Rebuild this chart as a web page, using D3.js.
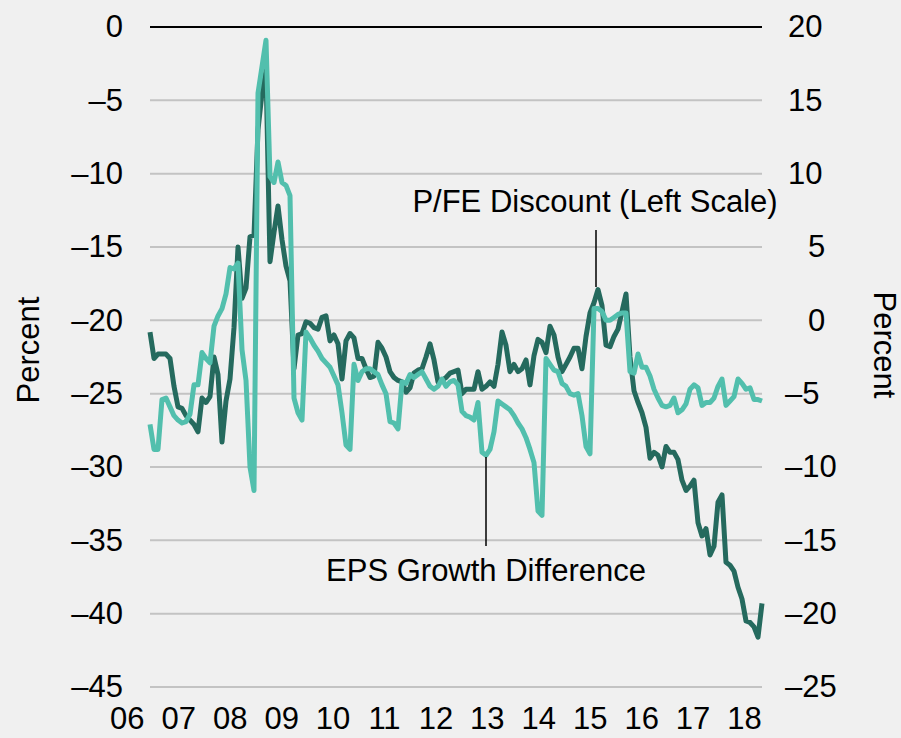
<!DOCTYPE html>
<html>
<head>
<meta charset="utf-8">
<script src="https://cdn.jsdelivr.net/npm/d3@7"></script>
<style>
  body { margin: 0; background: #f0f0f0; }
  svg text { font-family: "Liberation Sans", Arial, sans-serif; fill: #000; }
</style>
</head>
<body>
<div id="chart"></div>
<script>
// P/FE discount, left scale (percent)
var pfeDiscount = [
  -20.8, -22.6, -22.3, -22.3, -22.3, -22.6, -24.5, -25.9, -26.0, -26.5,
  -26.8, -27.1, -27.6, -25.3, -25.6, -25.2, -22.5, -23.7, -28.3, -25.5,
  -24.0, -20.5, -15.0, -18.5, -17.8, -14.3, -14.2, -7.0, -4.5, -3.0,
  -16.0, -14.0, -12.2, -14.5, -16.3, -17.3, -23.3, -21.0, -20.9, -20.1,
  -20.2, -20.5, -20.6, -19.8, -19.7, -21.4, -21.0, -21.6, -24.0, -21.4,
  -20.9, -21.2, -22.6, -22.6, -23.3, -23.9, -23.8, -21.5, -21.9, -22.5,
  -23.5, -23.9, -24.1, -24.2, -24.9, -24.6, -23.6, -23.4, -23.3, -22.5,
  -21.6, -22.7, -24.2, -24.1, -23.9, -23.6, -23.5, -23.4, -25.0, -24.7,
  -24.7, -24.7, -23.5, -24.7, -24.5, -24.2, -24.5, -23.0, -20.8, -21.7,
  -23.5, -23.0, -23.5, -23.3, -22.7, -24.4, -22.4, -21.3, -21.5, -22.2,
  -20.4, -21.0, -22.5, -23.5, -23.0, -22.5, -21.9, -21.9, -23.3, -21.1,
  -19.5, -18.8, -17.9, -19.0, -21.7, -21.8, -21.1, -20.6, -19.4, -18.2,
  -22.5, -24.8, -25.6, -26.3, -27.3, -29.4, -29.0, -29.2, -30.0, -28.6,
  -29.0, -29.0, -29.5, -30.9, -31.6, -31.3, -30.9, -33.8, -34.7, -34.2,
  -36.0, -35.4, -32.4, -31.9, -36.5, -36.7, -37.1, -38.2, -39.0, -40.5,
  -40.6, -40.9, -41.6, -39.3
];

// EPS growth difference, right scale (percent)
var epsGrowthDiff = [
  -7.1, -8.8, -8.8, -5.4, -5.3, -5.9, -6.5, -6.8, -7.0, -6.9,
  -6.4, -4.4, -4.4, -2.2, -2.6, -2.9, -0.4, 0.3, 0.8, 1.8,
  3.6, 3.5, 3.9, -2.0, -4.1, -10.0, -11.6, 15.5, 17.3, 19.1,
  9.8, 9.4, 10.8, 9.4, 9.2, 8.5, -5.3, -6.3, -6.8, -0.8,
  -1.2, -1.7, -2.1, -2.6, -2.9, -3.2, -3.8, -4.4, -6.3, -8.5,
  -8.8, -3.0, -4.1, -3.5, -3.3, -3.3, -3.5, -3.7, -4.4, -5.0,
  -6.9, -7.0, -7.4, -4.2, -4.3, -3.7, -3.9, -3.7, -3.5, -4.0,
  -4.5, -4.7, -4.5, -4.0, -4.5, -4.2, -4.1, -4.4, -6.2, -6.5,
  -6.6, -6.8, -5.6, -9.0, -9.2, -8.8, -7.6, -5.5, -5.7, -5.9,
  -6.1, -6.5, -7.0, -7.4, -8.0, -8.8, -9.7, -13.0, -13.3, -2.6,
  -3.0, -3.4, -3.5, -4.3, -4.5, -5.0, -5.1, -5.0, -6.5, -8.6,
  -9.1, 0.8, 0.8, 0.6, 0.0, 0.0, 0.2, 0.4, 0.5, 0.5,
  -3.5, -3.6, -2.3, -3.2, -3.2, -3.8, -4.7, -5.3, -5.8, -5.9,
  -5.8, -5.3, -6.3, -6.1, -5.7, -4.7, -4.4, -4.6, -5.8, -5.6,
  -5.6, -5.3, -4.5, -4.0, -5.8, -5.5, -5.2, -4.0, -4.3, -4.7,
  -4.6, -5.4, -5.4, -5.5
];

var years = [2006, 2007, 2008, 2009, 2010, 2011, 2012, 2013, 2014, 2015, 2016, 2017, 2018];
var leftTicks = [0, -5, -10, -15, -20, -25, -30, -35, -40, -45];
var rightTicks = [20, 15, 10, 5, 0, -5, -10, -15, -20, -25];

// series runs from mid-2006 to spring 2018
var SERIES_START = 2006.45, SERIES_END = 2018.35;

var WIDTH = 901, HEIGHT = 738;
var PLOT_LEFT = 150, PLOT_RIGHT = 762, PLOT_TOP = 27, PLOT_BOTTOM = 687;
var DARK = '#256a5e', LIGHT = '#52bfad';

var svg = d3.select('#chart').append('svg')
    .attr('width', WIDTH)
    .attr('height', HEIGHT);

svg.append('rect')
    .attr('width', WIDTH)
    .attr('height', HEIGHT)
    .attr('fill', '#f0f0f0');

var x = d3.scaleLinear()
    .domain([SERIES_START, SERIES_END])
    .range([PLOT_LEFT, PLOT_RIGHT]);
var yLeft = d3.scaleLinear().domain([-45, 0]).range([PLOT_BOTTOM, PLOT_TOP]);
var yRight = d3.scaleLinear().domain([-25, 20]).range([PLOT_BOTTOM, PLOT_TOP]);

function SeriesYear(i, n) {
  return SERIES_START + (SERIES_END - SERIES_START) * i / (n - 1);
}

function Dash(v) { return String(v).replace('-', '\u2013'); }

// gridlines, the zero line is black
svg.append('g').selectAll('line')
    .data(leftTicks)
    .join('line')
    .attr('x1', PLOT_LEFT)
    .attr('x2', PLOT_RIGHT)
    .attr('y1', (d) => yLeft(d))
    .attr('y2', (d) => yLeft(d))
    .attr('stroke', (d) => d == 0 ? '#000' : '#c3c3c3')
    .attr('stroke-width', 2);

var FONT = 31;

var leftAxis = svg.append('g')
    .attr('transform', 'translate(' + (PLOT_LEFT - 27) + ',0)')
    .call(d3.axisLeft(yLeft).tickValues(leftTicks).tickSize(0).tickPadding(0)
              .tickFormat(Dash));
leftAxis.select('.domain').remove();
leftAxis.selectAll('text').attr('font-size', FONT).attr('font-family', null);

var rightAxis = svg.append('g')
    .attr('transform', 'translate(' + (PLOT_RIGHT + 23) + ',0)')
    .call(d3.axisRight(yRight).tickValues(rightTicks).tickSize(0).tickPadding(0)
              .tickFormat(Dash));
rightAxis.select('.domain').remove();
rightAxis.selectAll('text')
    .attr('font-size', FONT)
    .attr('font-family', null)
    .attr('x', (d) => d >= 10 ? 3 : (d >= 0 ? 23 : 0));

var xAxis = svg.append('g')
    .attr('transform', 'translate(0,' + (PLOT_BOTTOM + 20) + ')')
    .call(d3.axisBottom(x).tickValues(years).tickSize(0).tickPadding(0)
              .tickFormat((d) => String(d).slice(2)));
xAxis.select('.domain').remove();
xAxis.selectAll('text').attr('font-size', FONT).attr('font-family', null);

svg.append('text')
    .attr('transform', 'translate(39,350) rotate(-90)')
    .attr('text-anchor', 'middle')
    .attr('font-size', FONT)
    .text('Percent');
svg.append('text')
    .attr('transform', 'translate(874,345) rotate(90)')
    .attr('text-anchor', 'middle')
    .attr('font-size', FONT)
    .text('Percent');

var pfeLine = d3.line()
    .x((d, i) => x(SeriesYear(i, pfeDiscount.length)))
    .y((d) => yLeft(d));
var epsLine = d3.line()
    .x((d, i) => x(SeriesYear(i, epsGrowthDiff.length)))
    .y((d) => yRight(d));

svg.append('path')
    .datum(pfeDiscount)
    .attr('d', pfeLine)
    .attr('fill', 'none')
    .attr('stroke', DARK)
    .attr('stroke-width', 5)
    .attr('stroke-linejoin', 'round');
svg.append('path')
    .datum(epsGrowthDiff)
    .attr('d', epsLine)
    .attr('fill', 'none')
    .attr('stroke', LIGHT)
    .attr('stroke-width', 5)
    .attr('stroke-linejoin', 'round');

// annotations with leader lines
svg.append('line')
    .attr('x1', 596).attr('x2', 596)
    .attr('y1', 230).attr('y2', 287)
    .attr('stroke', '#000').attr('stroke-width', 1.5);
svg.append('text')
    .attr('x', 595).attr('y', 212)
    .attr('text-anchor', 'middle')
    .attr('font-size', FONT)
    .text('P/FE Discount (Left Scale)');

svg.append('line')
    .attr('x1', 486).attr('x2', 486)
    .attr('y1', 457).attr('y2', 546)
    .attr('stroke', '#000').attr('stroke-width', 1.5);
svg.append('text')
    .attr('x', 486).attr('y', 581)
    .attr('text-anchor', 'middle')
    .attr('font-size', FONT)
    .text('EPS Growth Difference');
</script>
</body>
</html>
